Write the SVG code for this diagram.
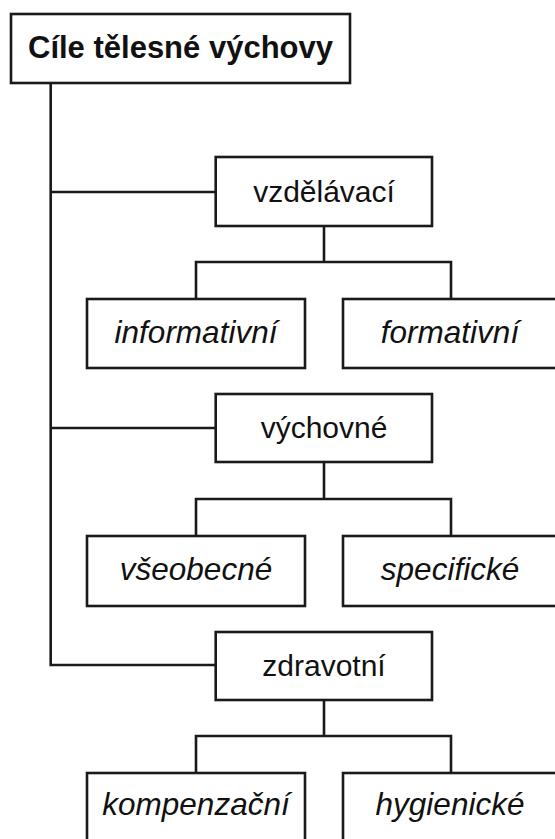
<svg xmlns="http://www.w3.org/2000/svg" width="555" height="839" viewBox="0 0 555 839">
<style>
.box{fill:#fff;stroke:#1a1a1a;stroke-width:2.6}
.ln{fill:none;stroke:#1a1a1a;stroke-width:2.6;stroke-linejoin:miter;stroke-linecap:square}
text{font-family:"Liberation Sans",Arial,sans-serif;fill:#111;text-anchor:middle}
.t{font-weight:bold;font-size:31px}
.p{font-size:30px}
.c{font-size:31.5px;font-style:italic}
</style>
<rect width="555" height="839" fill="#fff"/>
<g id="connectors">
<path class="ln" d="M50.7,83 V665 H215.7 M50.7,192 H215.7 M50.7,428 H215.7"/>
<path class="ln" d="M324,226 V262 M196,299 V262 H451 V299"/>
<path class="ln" d="M324,462 V499 M196,536 V499 H451 V536"/>
<path class="ln" d="M324,700 V736 M196,773 V736 H451 V773"/>
</g>
<g id="root"><rect class="box" x="11" y="14" width="339" height="69"/><text class="t" x="180.5" y="57.5">Cíle tělesné výchovy</text></g>
<g id="vzdelavaci"><rect class="box" x="215.7" y="157" width="216.3" height="69"/><text class="p" x="324" y="202">vzdělávací</text></g>
<g id="informativni"><rect class="box" x="87" y="299" width="218" height="69"/><text class="c" x="196" y="343">informativní</text></g>
<g id="formativni"><rect class="box" x="343" y="299" width="218" height="69"/><text class="c" x="450" y="343">formativní</text></g>
<g id="vychovne"><rect class="box" x="215.7" y="394" width="216.3" height="68"/><text class="p" x="324" y="438">výchovné</text></g>
<g id="vseobecne"><rect class="box" x="87" y="536" width="218" height="70"/><text class="c" x="196" y="580">všeobecné</text></g>
<g id="specificke"><rect class="box" x="343" y="536" width="218" height="70"/><text class="c" x="450" y="580">specifické</text></g>
<g id="zdravotni"><rect class="box" x="215.7" y="632" width="216.3" height="68"/><text class="p" x="324" y="676">zdravotní</text></g>
<g id="kompenzacni"><rect class="box" x="87" y="773" width="218" height="80"/><text class="c" x="196" y="815">kompenzační</text></g>
<g id="hygienicke"><rect class="box" x="343" y="773" width="218" height="80"/><text class="c" x="450" y="815">hygienické</text></g>
</svg>
